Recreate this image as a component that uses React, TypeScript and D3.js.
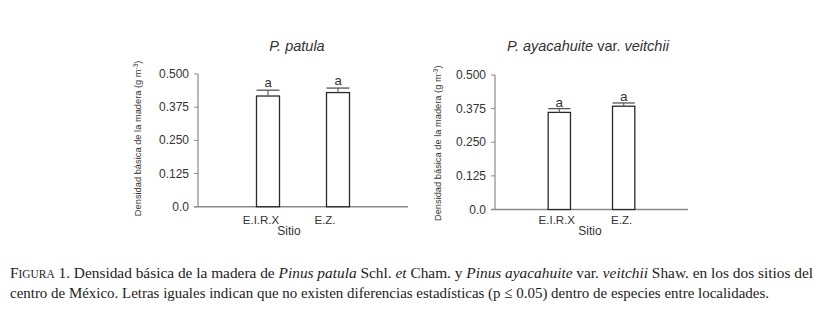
import React from "react";
import * as d3 from "d3";

const sites = ["E.I.R.X", "E.Z."];
const patulaMeans = [0.417, 0.43];
const patulaErrTop = [0.439, 0.447];
const ayacaMeans = [0.361, 0.384];
const ayacaErrTop = [0.375, 0.396];
const letters = ["a", "a"];
const yTicks = [0, 0.125, 0.25, 0.375, 0.5];
const yTickLabels = ["0.0", "0.125", "0.250", "0.375", "0.500"];

type Panel = {
  left: number; right: number; top: number; bottom: number;
  means: number[]; errs: number[]; barW: number;
  labelDx: number[]; sitioDx: number; titleX: number; ylabX: number; ylabDy: number;
  title: React.ReactNode; letterSize: number; letterGap: number;
};

const textCol = "#333";
const axisCol = "#8a8a8a";

function ChartPanel({ p }: { p: Panel }) {
  const y = d3.scaleLinear().domain([0, 0.5]).range([p.bottom, p.top]);
  const x = d3.scalePoint<string>().domain(sites).range([p.left, p.right]).padding(1);
  const font = "Arial, 'Liberation Sans', Helvetica, sans-serif";
  const ylabY = (p.top + p.bottom) / 2 + p.ylabDy;
  return (
    <g fontFamily={font} fill={textCol}>
      <text x={p.titleX} y={51} textAnchor="middle" fontSize={14.5} fontStyle="italic">{p.title}</text>
      <line x1={p.left} x2={p.left} y1={y(0.5)} y2={y(0)} stroke={axisCol} strokeWidth={1.2} />
      <line x1={p.left - 4} x2={p.right} y1={y(0)} y2={y(0)} stroke={axisCol} strokeWidth={1.4} />
      {yTicks.map((t, i) => (
        <g key={i}>
          <line x1={p.left - 4} x2={p.left} y1={y(t)} y2={y(t)} stroke={axisCol} strokeWidth={1} />
          <text x={p.left - 9} y={y(t) + 4} textAnchor="end" fontSize={12}>{yTickLabels[i]}</text>
        </g>
      ))}
      {sites.map((s, i) => {
        const cx = x(s)!;
        return (
          <g key={s}>
            <rect x={cx - p.barW / 2} y={y(p.means[i])} width={p.barW} height={y(0) - y(p.means[i])}
              fill="#fff" stroke="#2a2a2a" strokeWidth={1.3} />
            <line x1={cx} x2={cx} y1={y(p.means[i])} y2={y(p.errs[i])} stroke="#666" strokeWidth={1.2} />
            <line x1={cx - p.barW / 2} x2={cx + p.barW / 2} y1={y(p.errs[i])} y2={y(p.errs[i])} stroke="#555" strokeWidth={1.3} />
            <text x={cx} y={y(p.errs[i]) - p.letterGap} textAnchor="middle" fontSize={p.letterSize}>{letters[i]}</text>
            <text x={cx + p.labelDx[i]} y={223.5} textAnchor="middle" fontSize={11.5}>{s}</text>
          </g>
        );
      })}
      <text x={(p.left + p.right) / 2 + p.sitioDx} y={235} textAnchor="middle" fontSize={12}>Sitio</text>
      <text transform={`translate(${p.ylabX},${ylabY}) rotate(-90)`} textAnchor="middle" fontSize={9.3}>
        Densidad básica de la madera (g m<tspan dy={-3} fontSize={6.5}>-3</tspan><tspan dy={3}>)</tspan>
      </text>
    </g>
  );
}

export default function App() {
  const left: Panel = {
    left: 198, right: 408, top: 74, bottom: 206.7,
    means: patulaMeans, errs: patulaErrTop, barW: 23,
    labelDx: [-7, -13], sitioDx: -14, titleX: 297, ylabX: 141, ylabDy: -2,
    title: "P. patula", letterSize: 13, letterGap: 3.5,
  };
  const right: Panel = {
    left: 495, right: 688, top: 75, bottom: 209.5,
    means: ayacaMeans, errs: ayacaErrTop, barW: 22.3,
    labelDx: [-2.5, -2], sitioDx: -1.5, titleX: 588, ylabX: 441, ylabDy: 1,
    title: (<>P. ayacahuite <tspan fontStyle="normal">var.</tspan> veitchii</>), letterSize: 13.5, letterGap: 2,
  };
  const serif = "'Liberation Serif', 'DejaVu Serif', 'Times New Roman', serif";
  return (
    <svg width={821} height={316} style={{ position: "absolute", left: 0, top: 0 }}>
      <rect width={821} height={316} fill="#fff" />
      <ChartPanel p={left} />
      <ChartPanel p={right} />
      <g fontFamily={serif} fill="#222" fontSize={15.5}>
        <text x={10} y={278} textLength={803} lengthAdjust="spacingAndGlyphs">
          F<tspan fontSize={11.5}>IGURA</tspan> 1. Densidad básica de la madera de <tspan fontStyle="italic">Pinus patula</tspan> Schl. <tspan fontStyle="italic">et</tspan> Cham. y <tspan fontStyle="italic">Pinus ayacahuite</tspan> var. <tspan fontStyle="italic">veitchii</tspan> Shaw. en los dos sitios del
        </text>
        <text x={10} y={297.5} textLength={759} lengthAdjust="spacingAndGlyphs">
          centro de México. Letras iguales indican que no existen diferencias estadísticas (p ≤ 0.05) dentro de especies entre localidades.
        </text>
      </g>
    </svg>
  );
}
